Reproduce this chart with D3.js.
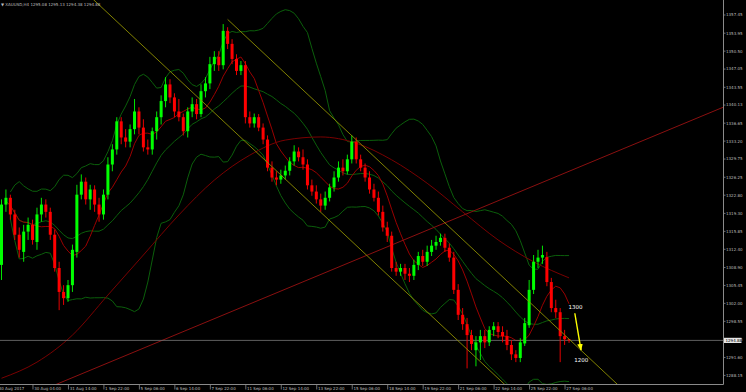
<!DOCTYPE html>
<html><head><meta charset="utf-8">
<script src="https://cdn.jsdelivr.net/npm/d3@7"></script>
<style>html,body{margin:0;padding:0;background:#000;overflow:hidden}svg{display:block}</style>
</head><body>
<svg id="c" width="746" height="392"></svg>
<script>
// ---------- data ----------
const symbolTitle = "XAUUSD,H4";
const headerValues = ["1295.08", "1295.13", "1294.38", "1294.88"];
const timeLabels = ["30 Aug 2017","30 Aug 04:00","31 Aug 14:00","1 Sep 22:00","5 Sep 06:00","6 Sep 14:00","7 Sep 22:00","11 Sep 06:00","12 Sep 14:00","13 Sep 22:00","15 Sep 06:00","18 Sep 14:00","19 Sep 22:00","21 Sep 06:00","22 Sep 14:00","25 Sep 22:00","27 Sep 06:00"];
const priceTicks = [1288.15,1291.60,1295.05,1298.55,1302.00,1305.45,1308.90,1312.40,1315.85,1319.30,1322.80,1326.25,1329.75,1333.20,1336.65,1340.13,1343.55,1347.05,1350.50,1353.95,1357.45];
const lastPrice = 1294.88;

const opens = [1309.4,1321.0,1322.3,1319.1,1315.2,1311.9,1315.8,1317.1,1313.8,1319.1,1321.0,1319.6,1315.2,1308.8,1304.2,1303.0,1305.5,1311.9,1322.9,1325.4,1322.0,1323.9,1321.0,1319.1,1322.9,1328.7,1331.6,1337.0,1333.9,1333.1,1335.5,1338.9,1335.8,1332.0,1331.6,1335.1,1337.8,1340.9,1344.1,1341.6,1338.9,1337.8,1335.1,1338.9,1340.3,1338.4,1342.8,1344.3,1348.0,1349.4,1347.8,1354.4,1351.9,1349.0,1346.7,1347.8,1337.8,1336.6,1337.8,1335.8,1333.5,1328.1,1326.2,1325.8,1326.6,1327.5,1329.3,1331.2,1330.1,1328.7,1324.7,1323.5,1322.0,1320.8,1322.3,1324.3,1326.2,1328.1,1327.4,1329.7,1333.1,1329.7,1328.1,1326.2,1323.9,1322.3,1319.6,1316.6,1315.0,1308.8,1308.1,1308.8,1307.7,1307.3,1309.4,1311.1,1310.0,1311.9,1313.1,1313.8,1314.6,1312.7,1310.8,1304.6,1299.8,1298.0,1295.9,1293.0,1294.5,1295.7,1294.5,1296.9,1297.6,1296.5,1295.7,1294.0,1292.2,1291.5,1294.3,1297.8,1304.6,1310.0,1310.8,1310.9,1306.1,1301.1,1300.3,1295.7,1295.1];
const highs = [1322.0,1323.9,1322.9,1320.0,1316.6,1317.1,1318.5,1318.1,1320.4,1322.3,1322.0,1320.4,1316.2,1310.0,1305.5,1306.5,1313.3,1324.8,1326.8,1326.2,1324.8,1324.7,1322.3,1323.9,1330.1,1332.6,1337.8,1337.8,1335.5,1336.4,1341.3,1339.7,1337.4,1333.5,1335.8,1338.9,1342.0,1345.5,1345.1,1342.4,1341.3,1338.5,1339.7,1341.6,1341.3,1344.1,1345.5,1349.4,1350.5,1350.5,1355.7,1355.1,1352.8,1349.9,1348.6,1348.6,1338.9,1338.5,1338.4,1336.6,1334.3,1329.3,1327.4,1327.7,1328.5,1330.1,1332.4,1332.0,1331.6,1329.7,1325.8,1324.7,1323.1,1323.5,1325.0,1327.4,1329.3,1329.7,1330.6,1334.3,1333.9,1330.6,1328.9,1327.4,1325.0,1323.5,1320.8,1317.7,1315.8,1310.0,1309.6,1309.6,1308.8,1310.4,1311.9,1312.3,1313.1,1314.2,1315.0,1315.4,1315.4,1313.5,1311.9,1305.7,1301.1,1299.2,1296.9,1295.7,1296.9,1296.9,1297.6,1298.4,1298.4,1297.6,1296.9,1294.9,1293.0,1295.3,1299.2,1306.5,1311.3,1312.3,1313.1,1311.9,1306.9,1302.7,1301.1,1296.9,1295.1];
const lows = [1306.5,1319.6,1318.1,1314.2,1310.8,1310.0,1314.2,1313.3,1312.3,1317.7,1318.5,1314.2,1308.1,1300.7,1301.7,1302.3,1304.2,1310.8,1322.0,1321.0,1320.0,1319.6,1317.7,1318.1,1322.0,1327.4,1330.6,1332.6,1332.0,1332.0,1334.5,1334.5,1331.2,1330.6,1330.6,1333.5,1336.4,1339.7,1340.5,1337.8,1337.0,1334.3,1333.9,1337.8,1337.4,1337.8,1341.6,1343.2,1346.7,1346.7,1347.0,1350.9,1348.0,1345.9,1345.9,1336.6,1335.8,1335.8,1335.1,1332.6,1327.4,1325.4,1324.7,1325.0,1325.8,1326.6,1328.5,1329.3,1327.7,1323.9,1322.7,1321.2,1319.6,1320.0,1321.6,1323.5,1325.4,1326.6,1326.8,1328.9,1328.9,1327.4,1325.4,1323.1,1321.6,1318.9,1315.8,1313.8,1308.1,1307.3,1307.3,1306.5,1306.1,1306.5,1308.4,1309.2,1309.2,1311.1,1312.3,1313.1,1311.9,1310.0,1303.8,1298.8,1296.9,1289.5,1293.0,1289.9,1291.1,1293.4,1293.8,1295.7,1295.3,1294.5,1293.0,1291.1,1290.7,1290.7,1293.8,1297.3,1303.8,1308.8,1309.6,1305.3,1300.3,1299.2,1290.7,1294.0,1294.4];
const closes = [1321.0,1322.3,1319.1,1315.2,1312.3,1315.8,1317.1,1314.2,1319.1,1321.0,1319.6,1315.2,1308.8,1304.2,1303.0,1305.5,1312.3,1322.9,1325.4,1322.0,1323.9,1321.0,1319.1,1322.9,1328.7,1331.6,1337.0,1333.9,1333.1,1335.5,1338.9,1335.8,1332.0,1331.6,1335.1,1337.8,1340.9,1344.1,1341.6,1338.9,1337.8,1335.1,1338.9,1340.3,1338.4,1342.8,1344.3,1348.0,1349.4,1347.8,1354.4,1351.9,1349.0,1346.7,1347.8,1337.8,1336.6,1337.8,1335.8,1333.5,1328.1,1326.2,1325.8,1326.6,1327.5,1329.3,1331.2,1330.1,1328.7,1324.7,1323.5,1322.0,1320.8,1322.3,1324.3,1326.2,1328.1,1327.4,1329.7,1333.1,1329.7,1328.1,1326.2,1323.9,1322.3,1319.6,1316.6,1315.0,1308.8,1308.1,1308.8,1307.7,1307.3,1309.4,1311.1,1310.0,1311.9,1313.1,1313.8,1314.6,1312.7,1310.8,1304.6,1299.8,1298.0,1295.9,1294.2,1294.5,1295.7,1294.5,1296.9,1297.6,1296.5,1295.7,1294.0,1292.2,1291.5,1294.5,1298.2,1304.6,1310.0,1310.8,1311.3,1306.1,1301.1,1300.3,1295.7,1295.1,1294.88];

// slow moving average, one value every 8 bars
const slowMAStep = 8;
const slowMA = [1287.6,1290.7,1295.9,1303.6,1311.3,1319.0,1325.7,1330.5,1333.4,1334.0,1332.8,1329.6,1325.1,1319.6,1314.2,1310.0,1306.9];

// drawn objects: [bar index, price]
const yellowLine1 = [[21, 1360.2], [112, 1287.6]];
const yellowLine2 = [[51, 1356.6], [138, 1287.15]];
const redTrend = [[12, 1286.3], [163, 1339.8]];
const arrowFromTo = [[129.3, 1300.1], [130.7, 1293.0]];
const noteLabels = [{t: "1300", i: 127.9, p: 1301.0}, {t: "1200", i: 129.2, p: 1290.7}];

// ---------- drawing ----------
const plotR = 723, plotB = 384;
const svg = d3.select("#c");
svg.append("rect").attr("width", 746).attr("height", 392).attr("fill", "#000");
const defs = svg.append("defs");
defs.append("clipPath").attr("id", "plot").append("rect")
  .attr("x", 0).attr("y", 0).attr("width", plotR).attr("height", plotB);
defs.append("marker").attr("id", "ah").attr("viewBox", "0 0 10 10")
  .attr("refX", 9).attr("refY", 5).attr("markerWidth", 5).attr("markerHeight", 5)
  .attr("orient", "auto").append("path").attr("d", "M0,1L10,5L0,9Z").attr("fill", "#ffff00");

const n = closes.length;
const x = d3.scaleLinear().domain([0, n - 1]).range([1.5, 1.5 + 4.434 * (n - 1)]);
const y = d3.scaleLinear().domain([priceTicks[0], priceTicks[priceTicks.length - 1]]).range([375.4, 15]);

const g = svg.append("g").attr("clip-path", "url(#plot)");

// indicators
function stats(i, len) {
  const s = Math.max(0, i - len + 1);
  const w = closes.slice(s, i + 1);
  const m = d3.mean(w);
  const v = d3.mean(w, d => (d - m) * (d - m));
  return [m, Math.sqrt(v)];
}
const idx = d3.range(n);
const bb = idx.filter(i => i >= 2).map(i => { const [m, s] = stats(i, 20); return {i, mid: m, up: m + 2 * s, lo: m - 2 * s}; });
const ma8 = idx.filter(i => i >= 1).map(i => ({i, v: stats(i, 8)[0]}));

const ln = key => d3.line().x(d => x(d.i)).y(d => y(d[key]));
["up", "mid", "lo"].forEach(k => {
  g.append("path").datum(bb).attr("d", ln(k)).attr("fill", "none")
    .attr("stroke", "#0b5f0b").attr("stroke-width", 1);
});
g.append("path").datum(ma8).attr("d", ln("v")).attr("fill", "none")
  .attr("stroke", "#9a0000").attr("stroke-width", 1);
const slowPts = slowMA.map((v, k) => ({i: k * slowMAStep, v}));
g.append("path").datum(slowPts).attr("d", ln("v").curve(d3.curveMonotoneX)).attr("fill", "none")
  .attr("stroke", "#7a0000").attr("stroke-width", 1);

// straight objects
function ray(pts, i0, i1) {
  const [[a, pa], [b, pb]] = pts;
  const s = (pb - pa) / (b - a);
  return [[i0, pa + s * (i0 - a)], [i1, pa + s * (i1 - a)]];
}
const segLine = d3.line().x(d => x(d[0])).y(d => y(d[1]));
g.append("path").attr("d", segLine(ray(redTrend, 12, 180))).attr("stroke", "#8a1010").attr("stroke-width", 1).attr("fill", "none");

// price line
g.append("line").attr("x1", 0).attr("x2", plotR).attr("y1", y(lastPrice)).attr("y2", y(lastPrice))
  .attr("stroke", "#767676").attr("stroke-width", 0.8);

// candles
const cg = g.append("g");
idx.forEach(i => {
  const up = closes[i] >= opens[i];
  const col = up ? "#00ff00" : "#ff0000";
  const cx = x(i);
  cg.append("line").attr("x1", cx).attr("x2", cx).attr("y1", y(highs[i])).attr("y2", y(lows[i]))
    .attr("stroke", col).attr("stroke-width", 0.9);
  const top = y(Math.max(opens[i], closes[i])), bot = y(Math.min(opens[i], closes[i]));
  cg.append("rect").attr("x", cx - 1.5).attr("width", 3).attr("y", top).attr("height", Math.max(1, bot - top)).attr("fill", col);
});

// yellow channel
g.append("path").attr("d", segLine(ray(yellowLine1, 14, 125))).attr("stroke", "#8f8f00").attr("stroke-width", 0.9).attr("fill", "none");
g.append("path").attr("d", segLine(ray(yellowLine2, 51, 145))).attr("stroke", "#8f8f00").attr("stroke-width", 0.9).attr("fill", "none");

// arrow + notes
g.append("line").attr("x1", x(arrowFromTo[0][0])).attr("y1", y(arrowFromTo[0][1]))
  .attr("x2", x(arrowFromTo[1][0])).attr("y2", y(arrowFromTo[1][1]))
  .attr("stroke", "#ffff00").attr("stroke-width", 1.4).attr("marker-end", "url(#ah)");
noteLabels.forEach(d => {
  g.append("text").attr("x", x(d.i)).attr("y", y(d.p)).text(d.t)
    .attr("fill", "#ffffff").attr("font-family", "DejaVu Sans, sans-serif").attr("font-size", 5.5);
});

// axes frame
svg.append("line").attr("x1", plotR + 0.5).attr("x2", plotR + 0.5).attr("y1", 0).attr("y2", plotB + 0.5).attr("stroke", "#8a8a8a");
svg.append("line").attr("x1", 0).attr("x2", plotR + 0.5).attr("y1", plotB + 0.5).attr("y2", plotB + 0.5).attr("stroke", "#8a8a8a");

// right price axis
const axisFont = "DejaVu Sans, sans-serif";
priceTicks.forEach(p => {
  const yy = y(p);
  svg.append("line").attr("x1", plotR).attr("x2", plotR + 2.5).attr("y1", yy).attr("y2", yy).attr("stroke", "#8a8a8a").attr("stroke-width", 0.8);
  svg.append("text").attr("x", plotR + 3).attr("y", yy + 1.4).text(p.toFixed(2))
    .attr("fill", "#bdbdbd").attr("font-family", axisFont).attr("font-size", 4);
});
// current price box
const ly = y(lastPrice);
svg.append("rect").attr("x", plotR + 1).attr("y", ly - 2.6).attr("width", 17.5).attr("height", 5.2).attr("fill", "#e6e6e6");
svg.append("text").attr("x", plotR + 2.5).attr("y", ly + 1.4).text(lastPrice.toFixed(2))
  .attr("fill", "#000").attr("font-family", axisFont).attr("font-size", 4);

// bottom time axis
timeLabels.forEach((t, k) => {
  const tx = x(k * 8) - 4;
  svg.append("line").attr("x1", tx).attr("x2", tx).attr("y1", plotB).attr("y2", plotB + 5.5).attr("stroke", "#8a8a8a").attr("stroke-width", 0.8);
  svg.append("text").attr("x", tx + 1.2).attr("y", 389.5).text(t)
    .attr("fill", "#bdbdbd").attr("font-family", axisFont).attr("font-size", 4);
});

// header
svg.append("text").attr("x", 1).attr("y", 5.5)
  .text("\u25BC " + symbolTitle + "  " + headerValues.join(" "))
  .attr("fill", "#bdbdbd").attr("font-family", axisFont).attr("font-size", 4);
</script>
</body></html>
